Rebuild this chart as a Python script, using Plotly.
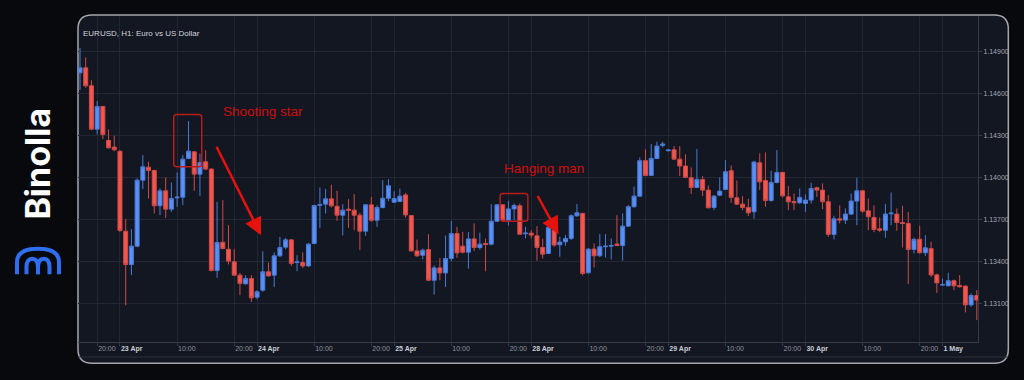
import plotly.graph_objects as go

# ---------------- data (EURUSD H1) ----------------
open_ = [1.14748, 1.14784, 1.14656, 1.14346, 1.14508, 1.14265, 1.14218, 1.14189, 1.13618, 1.13380,
         1.13511, 1.13982, 1.14075, 1.14051, 1.13799, 1.13906, 1.13775, 1.13856, 1.13861, 1.14137,
         1.14184, 1.14025, 1.14113, 1.14061, 1.13337, 1.13539, 1.13489, 1.13399, 1.13304, 1.13242,
         1.13280, 1.13147, 1.13197, 1.13328, 1.13304, 1.13442, 1.13504, 1.13556, 1.13394, 1.13394,
         1.13370, 1.13530, 1.13803, 1.13811, 1.13849, 1.13796, 1.13732, 1.13775, 1.13768, 1.13732,
         1.13618, 1.13806, 1.13696, 1.13787, 1.13853, 1.13825, 1.13830, 1.13877, 1.13730, 1.13477,
         1.13446, 1.13487, 1.13268, 1.13356, 1.13320, 1.13423, 1.13601, 1.13511, 1.13468, 1.13563,
         1.13501, 1.13530, 1.13525, 1.13689, 1.13806, 1.13696, 1.13777, 1.13799, 1.13599, 1.13604,
         1.13585, 1.13502, 1.13459, 1.13626, 1.13521, 1.13542, 1.13566, 1.13728, 1.13745, 1.13321,
         1.13490, 1.13442, 1.13507, 1.13511, 1.13526, 1.13516, 1.13654, 1.13792, 1.13868, 1.14121,
         1.14016, 1.14137, 1.14230, 1.14192, 1.14199, 1.14132, 1.14083, 1.13999, 1.13930, 1.13987,
         1.13911, 1.13787, 1.13875, 1.13916, 1.14049, 1.13856, 1.13811, 1.13787, 1.13756, 1.14106,
         1.13980, 1.13837, 1.13966, 1.14037, 1.13863, 1.13830, 1.13821, 1.13816, 1.13840, 1.13928,
         1.13911, 1.13828, 1.13595, 1.13706, 1.13697, 1.13740, 1.13833, 1.13906, 1.13763, 1.13716,
         1.13635, 1.13625, 1.13742, 1.13740, 1.13680, 1.13673, 1.13487, 1.13561, 1.13464, 1.13494,
         1.13306, 1.13233, 1.13228, 1.13264, 1.13230, 1.13226, 1.13092, 1.13159]
high = [1.14925, 1.14858, 1.14696, 1.14546, 1.14513, 1.14344, 1.14299, 1.14194, 1.13704, 1.13632,
        1.13994, 1.14161, 1.14113, 1.14056, 1.13923, 1.14001, 1.13965, 1.14037, 1.14161, 1.14403,
        1.14189, 1.14172, 1.14196, 1.14065, 1.13827, 1.13839, 1.13661, 1.13489, 1.13320, 1.13304,
        1.13304, 1.13197, 1.13475, 1.13394, 1.13466, 1.13577, 1.13570, 1.13561, 1.13447, 1.13466,
        1.13535, 1.13806, 1.13930, 1.13920, 1.13949, 1.13906, 1.13811, 1.13846, 1.13882, 1.13749,
        1.13811, 1.13863, 1.13803, 1.13982, 1.13989, 1.13903, 1.13922, 1.13892, 1.13732, 1.13558,
        1.13494, 1.13596, 1.13373, 1.13425, 1.13587, 1.13692, 1.13649, 1.13613, 1.13613, 1.13673,
        1.13608, 1.13565, 1.13811, 1.13811, 1.13811, 1.13834, 1.13815, 1.13815, 1.13649, 1.13626,
        1.13654, 1.13564, 1.13654, 1.13638, 1.13578, 1.13590, 1.13738, 1.13811, 1.13749, 1.13495,
        1.13530, 1.13597, 1.13597, 1.13566, 1.13733, 1.13745, 1.13804, 1.13935, 1.14144, 1.14202,
        1.14240, 1.14256, 1.14256, 1.14204, 1.14225, 1.14225, 1.14166, 1.14073, 1.14206, 1.14011,
        1.13944, 1.13875, 1.14002, 1.14125, 1.14087, 1.13980, 1.13868, 1.13849, 1.14120, 1.14173,
        1.14180, 1.14049, 1.14197, 1.14042, 1.13940, 1.13887, 1.13923, 1.13880, 1.13963, 1.13935,
        1.13959, 1.13875, 1.13728, 1.13802, 1.13780, 1.13887, 1.13999, 1.13911, 1.13852, 1.13802,
        1.13716, 1.13811, 1.13894, 1.13780, 1.13799, 1.13756, 1.13573, 1.13656, 1.13590, 1.13542,
        1.13316, 1.13280, 1.13321, 1.13273, 1.13304, 1.13230, 1.13173, 1.13197]
low = [1.14625, 1.14641, 1.14339, 1.14308, 1.14275, 1.14208, 1.14189, 1.13613, 1.13090, 1.13304,
       1.13504, 1.13918, 1.13851, 1.13744, 1.13732, 1.13713, 1.13756, 1.13792, 1.13804, 1.14132,
       1.13906, 1.13870, 1.14053, 1.13332, 1.13285, 1.13489, 1.13380, 1.13299, 1.13161, 1.13237,
       1.13113, 1.13132, 1.13185, 1.13294, 1.13220, 1.13435, 1.13489, 1.13370, 1.13332, 1.13356,
       1.13363, 1.13525, 1.13642, 1.13744, 1.13787, 1.13692, 1.13587, 1.13642, 1.13625, 1.13482,
       1.13585, 1.13685, 1.13649, 1.13780, 1.13832, 1.13820, 1.13825, 1.13715, 1.13473, 1.13435,
       1.13416, 1.13263, 1.13166, 1.13268, 1.13220, 1.13404, 1.13428, 1.13458, 1.13351, 1.13477,
       1.13487, 1.13332, 1.13518, 1.13685, 1.13689, 1.13658, 1.13696, 1.13594, 1.13566, 1.13566,
       1.13407, 1.13423, 1.13454, 1.13507, 1.13435, 1.13514, 1.13554, 1.13721, 1.13302, 1.13316,
       1.13359, 1.13435, 1.13430, 1.13416, 1.13511, 1.13407, 1.13649, 1.13787, 1.13864, 1.14011,
       1.14011, 1.14132, 1.14216, 1.14187, 1.14130, 1.14011, 1.13997, 1.13883, 1.13925, 1.13868,
       1.13780, 1.13768, 1.13868, 1.13911, 1.13821, 1.13804, 1.13768, 1.13726, 1.13706, 1.13911,
       1.13792, 1.13828, 1.13959, 1.13859, 1.13768, 1.13768, 1.13811, 1.13756, 1.13816, 1.13863,
       1.13775, 1.13578, 1.13559, 1.13673, 1.13668, 1.13733, 1.13661, 1.13749, 1.13625, 1.13611,
       1.13611, 1.13571, 1.13661, 1.13621, 1.13502, 1.13240, 1.13459, 1.13459, 1.13440, 1.13292,
       1.13178, 1.13228, 1.13226, 1.13197, 1.13216, 1.13038, 1.13078, 1.12983]
close = [1.14784, 1.14656, 1.14346, 1.14508, 1.14308, 1.14213, 1.14199, 1.13623, 1.13380, 1.13511,
         1.13982, 1.14077, 1.14051, 1.13799, 1.13906, 1.13775, 1.13851, 1.13861, 1.14132, 1.14189,
         1.14025, 1.14108, 1.14061, 1.13337, 1.13537, 1.13494, 1.13404, 1.13304, 1.13244, 1.13280,
         1.13142, 1.13185, 1.13328, 1.13299, 1.13442, 1.13501, 1.13556, 1.13387, 1.13399, 1.13370,
         1.13525, 1.13801, 1.13808, 1.13849, 1.13799, 1.13732, 1.13768, 1.13768, 1.13732, 1.13618,
         1.13806, 1.13696, 1.13787, 1.13853, 1.13942, 1.13851, 1.13868, 1.13734, 1.13477, 1.13442,
         1.13482, 1.13268, 1.13356, 1.13320, 1.13423, 1.13601, 1.13463, 1.13468, 1.13563, 1.13501,
         1.13525, 1.13523, 1.13689, 1.13806, 1.13696, 1.13777, 1.13801, 1.13596, 1.13604, 1.13590,
         1.13502, 1.13454, 1.13645, 1.13519, 1.13540, 1.13566, 1.13728, 1.13749, 1.13316, 1.13490,
         1.13442, 1.13507, 1.13511, 1.13516, 1.13516, 1.13654, 1.13792, 1.13868, 1.14121, 1.14016,
         1.14137, 1.14225, 1.14240, 1.14197, 1.14132, 1.14083, 1.14002, 1.13930, 1.13987, 1.13911,
         1.13785, 1.13868, 1.13904, 1.14042, 1.13859, 1.13811, 1.13787, 1.13749, 1.14111, 1.13970,
         1.13837, 1.13966, 1.14037, 1.13870, 1.13828, 1.13821, 1.13859, 1.13840, 1.13923, 1.13911,
         1.13828, 1.13595, 1.13706, 1.13697, 1.13740, 1.13833, 1.13906, 1.13761, 1.13721, 1.13630,
         1.13625, 1.13740, 1.13747, 1.13680, 1.13673, 1.13487, 1.13559, 1.13464, 1.13499, 1.13306,
         1.13249, 1.13237, 1.13264, 1.13228, 1.13221, 1.13092, 1.13159, 1.13126]

bar_index = list(range(len(open_)))

tick_bars = [3, 7, 17, 27, 31, 41, 51, 55, 65, 75, 79, 89, 99, 103, 113, 123, 127, 137, 147, 151]
tick_labels = ["20:00", "23 Apr", "10:00", "20:00", "24 Apr", "10:00", "20:00", "25 Apr", "10:00", "20:00",
               "28 Apr", "10:00", "20:00", "29 Apr", "10:00", "20:00", "30 Apr", "10:00", "20:00", "1 May"]
price_ticks = [1.131, 1.134, 1.137, 1.140, 1.143, 1.146, 1.149]

# ---------------- layout geometry (pixels) ----------------
W, H = 1024, 380
PL, PR, PT, PB = 78.0, 977.7, 16.0, 341.7          # plot area
XR = [-0.35, 157.21]
YR = [1.128271, 1.151536]


def px2x(px):
    return XR[0] + (px - PL) / (PR - PL) * (XR[1] - XR[0])


def py2y(py):
    return YR[1] - (py - PT) / (PB - PT) * (YR[1] - YR[0])


def ppx(px):
    return (px - PL) / (PR - PL)


def ppy(py):
    return (PB - py) / (PB - PT)


def rounded_path(x0, y0, x1, y1, r, conv_x, conv_y):
    pts = lambda x, y: f"{conv_x(x):.6f},{conv_y(y):.6f}"
    return (f"M {pts(x0 + r, y0)} L {pts(x1 - r, y0)} Q {pts(x1, y0)} {pts(x1, y0 + r)} "
            f"L {pts(x1, y1 - r)} Q {pts(x1, y1)} {pts(x1 - r, y1)} "
            f"L {pts(x0 + r, y1)} Q {pts(x0, y1)} {pts(x0, y1 - r)} "
            f"L {pts(x0, y0 + r)} Q {pts(x0, y0)} {pts(x0 + r, y0)} Z")


def arch(x0, x1, yb, ym, yt):
    return (f"M {ppx(x0):.5f},{ppy(yb):.5f} L {ppx(x0):.5f},{ppy(ym):.5f} "
            f"Q {ppx(x0):.5f},{ppy(yt):.5f} {ppx((x0 + x1) / 2):.5f},{ppy(yt):.5f} "
            f"Q {ppx(x1):.5f},{ppy(yt):.5f} {ppx(x1):.5f},{ppy(ym):.5f} "
            f"L {ppx(x1):.5f},{ppy(yb):.5f}")


fig = go.Figure()
fig.add_trace(go.Candlestick(
    x=bar_index, open=open_, high=high, low=low, close=close,
    increasing=dict(line=dict(color="#4a7bd6", width=1), fillcolor="#5a8ff5"),
    decreasing=dict(line=dict(color="#cf4b47", width=1), fillcolor="#f2564f"),
    whiskerwidth=0, hoverinfo="skip", showlegend=False,
))

ticktext = []
for t in tick_labels:
    if ":" in t:
        ticktext.append(t)
    else:
        ticktext.append(f"<b><span style='color:#c9ccd4'>{t}</span></b>")

fig.update_layout(
    width=W, height=H,
    margin=dict(l=PL, r=W - PR, t=PT, b=H - PB, pad=0),
    paper_bgcolor="#08090d",
    plot_bgcolor="rgba(0,0,0,0)",
    boxgap=0.3, boxgroupgap=0,
    showlegend=False,
    font=dict(family="Liberation Sans, Arial, sans-serif", color="#9598a1", size=7),
    xaxis=dict(
        range=XR, rangeslider=dict(visible=False), fixedrange=True,
        tickmode="array", tickvals=tick_bars, ticktext=ticktext, tickangle=0,
        showgrid=True, gridcolor="#232733", gridwidth=1, zeroline=False,
        showline=True, linecolor="#363a45", linewidth=1,
        ticks="outside", ticklen=3, tickcolor="#363a45",
        ticklabelposition="outside right",
        tickfont=dict(size=7, color="#8f929b"),
    ),
    yaxis=dict(
        range=YR, side="right", fixedrange=True,
        tickmode="array", tickvals=price_ticks, ticktext=[f"{v:.5f}" for v in price_ticks],
        showgrid=True, gridcolor="#232733", gridwidth=1, zeroline=False,
        showline=True, linecolor="#363a45", linewidth=1,
        ticks="outside", ticklen=3, tickcolor="#363a45",
        tickfont=dict(size=7, color="#a3a6ae"),
    ),
)

shapes = []
# panel
shapes.append(dict(type="path", xref="paper", yref="paper", layer="below",
                   path=rounded_path(78, 15, 1008, 363, 14, ppx, ppy),
                   fillcolor="#131722", line=dict(color="#a4a6ab", width=1.5)))
# lower time-scale line
shapes.append(dict(type="line", xref="paper", yref="paper", layer="below",
                   x0=ppx(78), x1=ppx(1008), y0=ppy(356.7), y1=ppy(356.7),
                   line=dict(color="#2c303b", width=1)))
# pattern boxes
shapes.append(dict(type="path", xref="x", yref="y",
                   path=rounded_path(173.7, 114.3, 201.7, 166.7, 3, px2x, py2y),
                   line=dict(color="#b81c1c", width=1.5)))
shapes.append(dict(type="path", xref="x", yref="y",
                   path=rounded_path(500.0, 193.3, 527.7, 221.0, 3, px2x, py2y),
                   line=dict(color="#b81c1c", width=1.5)))
# logo icon
for a in [arch(17, 59, 274, 262, 248.5), arch(26.5, 38, 274, 267, 258.5), arch(38, 49.5, 274, 267, 258.5)]:
    shapes.append(dict(type="path", xref="paper", yref="paper", path=a,
                       line=dict(color="#2f6ef0", width=4)))
fig.update_layout(shapes=shapes)

ann = []
ann.append(dict(xref="paper", yref="paper", x=ppx(81), y=ppy(33.5), xanchor="left", yanchor="middle",
                text="EURUSD, H1: Euro vs US Dollar", showarrow=False,
                font=dict(size=8, color="#d1d4dc", family="Liberation Sans, Arial, sans-serif")))
ann.append(dict(xref="x", yref="y", x=px2x(262.5), y=py2y(111), text="Shooting star",
                showarrow=False, xanchor="center", yanchor="middle",
                font=dict(size=13.5, color="#d00d0d", family="Liberation Sans, Arial, sans-serif")))
ann.append(dict(xref="x", yref="y", x=px2x(544), y=py2y(168.5), text="Hanging man",
                showarrow=False, xanchor="center", yanchor="middle",
                font=dict(size=13.5, color="#d00d0d", family="Liberation Sans, Arial, sans-serif")))
# arrows
ann.append(dict(xref="x", yref="y", x=px2x(261), y=py2y(235), text="", showarrow=True,
                ax=215.7 - 261, ay=145 - 235, arrowhead=2, arrowsize=1.4, arrowwidth=2.5,
                arrowcolor="#e5120e"))
ann.append(dict(xref="x", yref="y", x=px2x(558.3), y=py2y(234), text="", showarrow=True,
                ax=536.7 - 558.3, ay=194.3 - 234, arrowhead=2, arrowsize=1.4, arrowwidth=2.5,
                arrowcolor="#e5120e"))
# brand
ann.append(dict(xref="paper", yref="paper", x=ppx(37.5), y=ppy(163), text="<b>Binolla</b>",
                showarrow=False, textangle=-90, xanchor="center", yanchor="middle",
                font=dict(size=34, color="#ffffff", family="Inter, Roboto, sans-serif")))
fig.update_layout(annotations=ann)

fig.write_html("out.html")
